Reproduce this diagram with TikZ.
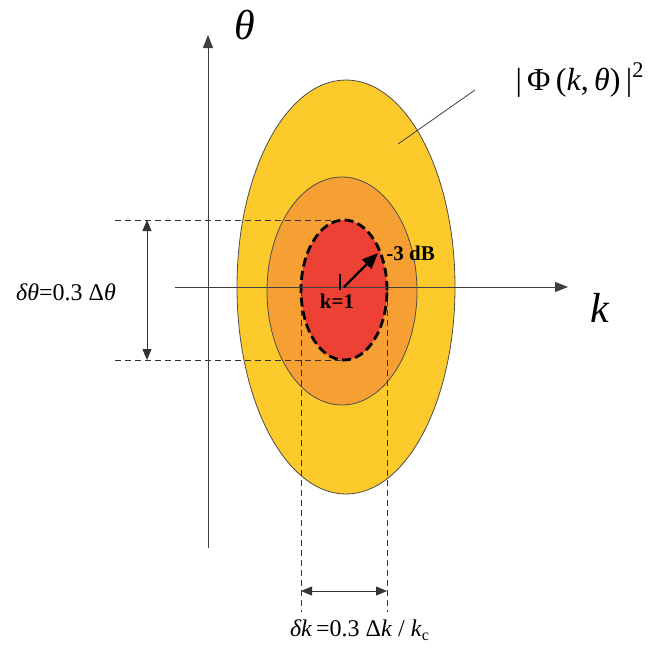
\documentclass[tikz,border=0pt]{standalone}
\usepackage{fontspec}
\setmainfont{Liberation Serif}
\definecolor{OuterGold}{HTML}{FDCA2C}
\definecolor{MidOrange}{HTML}{F6A033}
\definecolor{CoreRed}{HTML}{EE4135}
\usetikzlibrary{arrows.meta,positioning,calc}

\begin{document}
\begin{tikzpicture}[x=0.5pt,y=-0.5pt,every node/.style={inner sep=1pt,font=\fontsize{12}{14}\selectfont},
    guide/.style={densely dashed,thin,black!80},
    axis/.style={thin,black!75,-{Triangle[length=6.5pt,width=5pt]}},
    dim/.style={thin,black!80,{Triangle[length=5.5pt,width=4.5pt]}-{Triangle[length=5.5pt,width=4.5pt]}}]
  \useasboundingbox (0,0) rectangle (668,649);
  % spectrum levels
  \fill[OuterGold,draw=black!70,thin] (346,287) ellipse [x radius=54.5pt,y radius=103.5pt];
  \fill[MidOrange,draw=black!70,thin] (342,291) ellipse [x radius=37.5pt,y radius=57pt];
  \fill[CoreRed] (344,290) ellipse [x radius=21.5pt,y radius=35pt];
  % guide lines
  \coordinate (c) at (344,287);
  \coordinate (tl) at (115,220); \coordinate (tr) at (344,220);
  \coordinate (bl) at (115,360); \coordinate (br) at (344,360);
  \coordinate (lu) at (301,290); \coordinate (ld) at (301,612);
  \coordinate (ru) at (387,290); \coordinate (rd) at (387,612);
  \foreach \x/\y in {tl/tr,bl/br,lu/ld,ru/rd}{\draw[guide] (\x)--(\y);}
  \draw[line width=1.4pt,dash pattern=on 4.5pt off 2.2pt] (344,290) ellipse [x radius=21.5pt,y radius=35pt];
  % axes
  \coordinate (ko) at (175,287); \coordinate (ke) at (568,287);
  \coordinate (to) at (208,548); \coordinate (te) at (208,35);
  \draw[axis] (ko)--(ke);
  \draw[axis] (to)--(te);
  \node[font=\fontsize{21}{23}\selectfont\itshape] (klab) at (600,308) {k};
  \node[font=\fontsize{21}{23}\selectfont\itshape] (tlab) at (245,25) {θ};
  % centre and -3 dB
  \draw[line width=1.3pt] (340,274)--(340,290);
  \node[font=\fontsize{10.5}{12}\selectfont\bfseries] (k1) at (337,301) {k=1};
  \coordinate (db) at (378,253);
  \draw[line width=1.2pt,-{Triangle[length=8pt,width=6.5pt]}] (c)--(db);
  \node[font=\fontsize{10.5}{12}\selectfont\bfseries,right=3pt of db] (dblab) {-3 dB};
  % widths
  \coordinate (t1) at (147,220); \coordinate (t2) at (147,360);
  \coordinate (k1a) at (301,591); \coordinate (k2a) at (387,591);
  \draw[dim] (t1)--(t2);
  \draw[dim] (k1a)--(k2a);
  \node (dth) at (66,292) {\textit{δθ}=0.3 Δ\textit{θ}};
  \node (dk) at (360,630) {\textit{δk}\,=0.3 Δ\textit{k} / \textit{k}\textsubscript{c}};
  % spectrum label
  \node[font=\fontsize{16}{18}\selectfont] (phi) at (580,80) {|\,Φ\,(\textit{k},\,\textit{θ})\,|\textsuperscript{2}};
  \coordinate (lp) at (398,144); \coordinate (lq) at (475,90);
  \draw[thin,black!75] (lp)--(lq);
\end{tikzpicture}
\end{document}
